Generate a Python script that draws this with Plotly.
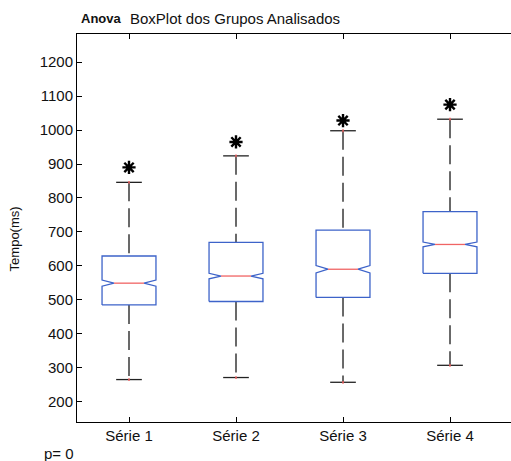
import plotly.graph_objects as go

categories = ["Série 1", "Série 2", "Série 3", "Série 4"]
positions = [1, 2, 3, 4]
lower_whisker = [265, 271, 257, 307]
q1 = [485, 495, 507, 578]
median = [549, 570, 590, 663]
q3 = [629, 669, 705, 760]
upper_whisker = [846, 924, 998, 1032]
notch = [9, 8, 11, 7]
outliers = [890, 965, 1028, 1075]
y_ticks = [200, 300, 400, 500, 600, 700, 800, 900, 1000, 1100, 1200]

HW = 0.252   # half box width
NW = 0.14    # half width at notch
CW = 0.12    # half cap width

FONT = "Liberation Sans, Arial, sans-serif"
BLUE = "#3d63c9"
RED = "#f06464"
BLACK = "#1a1a1a"

bx, by, mx, my, wx, wy, cx, cy, rx, ry = [], [], [], [], [], [], [], [], [], []
for p, lw, a, m, b, uw, n in zip(positions, lower_whisker, q1, median, q3, upper_whisker, notch):
    bx += [p - HW, p - HW, p - NW, p - HW, p - HW, p + HW, p + HW, p + NW, p + HW, p + HW, p - HW, None]
    by += [a, m - n, m, m + n, b, b, m + n, m, m - n, a, a, None]
    mx += [p - NW, p + NW, None]
    my += [m, m, None]
    wx += [p, p, None, p, p, None]
    wy += [uw, b, None, a, lw, None]
    cx += [p - CW, p + CW, None, p - CW, p + CW, None]
    cy += [uw, uw, None, lw, lw, None]
    rx += [p, p]
    ry += [uw, lw]

fig = go.Figure()
fig.add_trace(go.Scatter(x=wx, y=wy, mode="lines", line=dict(color=BLACK, width=1.3, dash="19px,7px"),
                         hoverinfo="skip", showlegend=False))
fig.add_trace(go.Scatter(x=cx, y=cy, mode="lines", line=dict(color="#222222", width=1.3),
                         hoverinfo="skip", showlegend=False))
fig.add_trace(go.Scatter(x=bx, y=by, mode="lines", line=dict(color=BLUE, width=1.3),
                         hoverinfo="skip", showlegend=False))
fig.add_trace(go.Scatter(x=mx, y=my, mode="lines", line=dict(color=RED, width=1.3),
                         hoverinfo="skip", showlegend=False))
fig.add_trace(go.Scatter(x=rx, y=ry, mode="markers",
                         marker=dict(symbol="line-ns", size=2, color=RED, line=dict(color=RED, width=1.5)),
                         hoverinfo="skip", showlegend=False))
fig.add_trace(go.Scatter(x=positions, y=outliers, mode="markers",
                         marker=dict(symbol="asterisk-open", size=11, color="black",
                                     line=dict(color="black", width=2.4)),
                         hoverinfo="skip", showlegend=False))

fig.update_layout(
    width=511, height=461,
    margin=dict(l=77, r=0, t=34, b=39),
    paper_bgcolor="white", plot_bgcolor="white",
    font=dict(family=FONT, size=15, color="#111111"),
    xaxis=dict(range=[0.514, 4.57], tickmode="array", tickvals=positions, ticktext=categories,
               showgrid=False, zeroline=False, showline=True, linecolor="black", linewidth=1,
               mirror="ticks", ticks="inside", ticklen=5, tickcolor="black"),
    yaxis=dict(range=[140, 1283], tickmode="array", tickvals=y_ticks,
               showgrid=False, zeroline=False, showline=True, linecolor="black", linewidth=1,
               ticks="inside", ticklen=5, tickcolor="black"),
    annotations=[
        dict(text="<b>Anova</b>", xref="paper", yref="paper", x=0.0046, y=1.0387,
             xanchor="left", yanchor="middle", showarrow=False, font=dict(size=13)),
        dict(text="BoxPlot dos Grupos Analisados", xref="paper", yref="paper", x=0.1175, y=1.0387,
             xanchor="left", yanchor="middle", showarrow=False, font=dict(size=15)),
        dict(text="Tempo(ms)", xref="paper", yref="paper", x=-0.143, y=0.473, textangle=-90,
             xanchor="center", yanchor="middle", showarrow=False, font=dict(size=13)),
        dict(text="p= 0", xref="paper", yref="paper", x=-0.08, y=-0.08,
             xanchor="left", yanchor="middle", showarrow=False, font=dict(size=15)),
    ],
)
fig.write_html("out.html", config={"displayModeBar": False},
               post_script="document.body.style.margin='0';document.body.style.overflow='hidden';")
